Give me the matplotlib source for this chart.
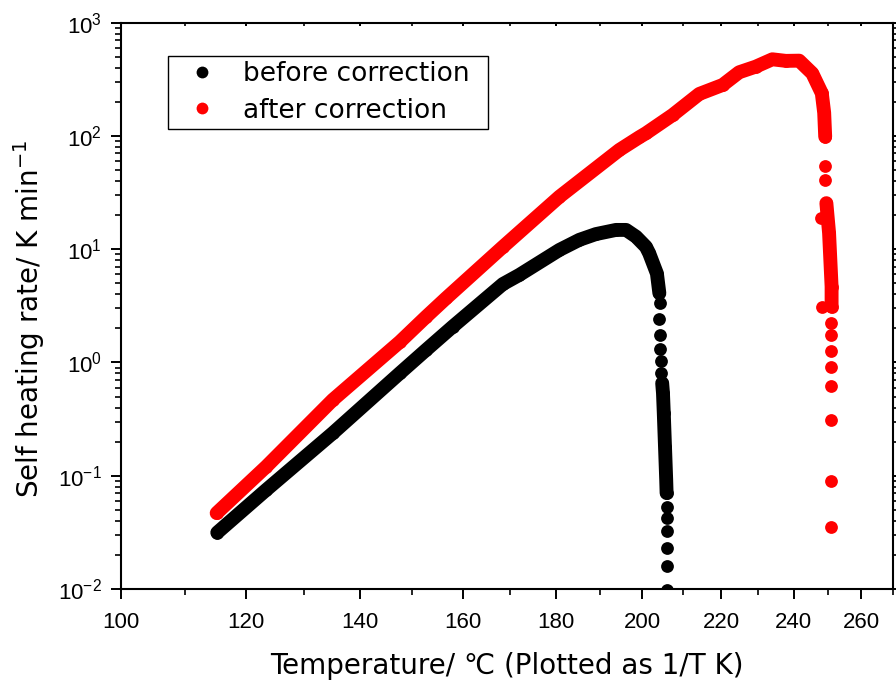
import numpy as np
import matplotlib
matplotlib.use('Agg')
import matplotlib.pyplot as plt
from matplotlib.ticker import MultipleLocator, LogLocator, LogFormatterSciNotation
from matplotlib.lines import Line2D

# Self heating rate vs temperature (ARC run), x axis plotted as 1/T.
# NaN breaks the continuous band so the sparse tail points show as single dots.
nan = np.nan

before_T = [115.2, 123.4, 135.1, 147.6, 152.7, 158.0, 168.4, 171.9, 180.7, 185.2,
            189.0, 193.7, 196.1, 198.5, 200.9, 201.7, 203.6, 204.2,
            nan, 204.3, nan, 204.2, nan, 204.3, nan, 204.4, nan, 204.6, nan, 204.7,
            nan, 204.9, 205.1, 205.3, 205.6, 205.9, 206.0,
            nan, 206.1, nan, 206.2, nan, 206.2, nan, 206.2, nan, 206.2, nan, 206.2]
before_rate = [0.0315, 0.0751, 0.238, 0.805, 1.29, 2.07, 4.93, 5.93, 9.86, 12.1,
               13.6, 14.8, 14.8, 12.9, 10.5, 9.2, 6.1, 4.09,
               nan, 3.36, nan, 2.43, nan, 1.75, nan, 1.32, nan, 1.02, nan, 0.805,
               nan, 0.657, 0.536, 0.356, 0.181, 0.092, 0.0703,
               nan, 0.0535, nan, 0.0423, nan, 0.0322, nan, 0.0230, nan, 0.0158, nan, 0.0098]

after_T = [115.1, 123.4, 135.1, 147.6, 152.7, 156.7, 168.4, 180.7, 194.5, 199.3,
           200.9, 207.5, 214.3, 220.4, 224.8, 229.3, 233.9, 237.7, 241.5, 245.3,
           248.1, 248.8, 249.1,
           nan, 249.1, nan, 249.1, nan, 247.8, nan, 248.3,
           nan, 249.45, 250.25, 251.0, 251.0,
           nan, 250.9, nan, 250.9, nan, 250.9, nan, 250.9, nan, 250.9, nan, 250.9,
           nan, 250.9, nan, 250.9]
after_rate = [0.0468, 0.1205, 0.468, 1.52, 2.53, 3.70, 10.5, 29.1, 75.2, 97.5,
              105.6, 153, 235, 282, 365, 409, 475, 460, 462, 357,
              238, 160, 98.6,
              nan, 54.4, nan, 40.9, nan, 18.8, nan, 3.11,
              nan, 25.5, 13.9, 4.68, 3.11,
              nan, 2.22, nan, 1.75, nan, 1.25, nan, 0.92, nan, 0.625, nan, 0.311,
              nan, 0.0896, nan, 0.0351]

series = [('before correction', before_T, before_rate, 'black'),
          ('after correction', after_T, after_rate, 'red')]

# tick numbers in an Arial-like face, axis titles and legend in a wider sans
plt.rcParams['font.family'] = 'Liberation Sans'
plt.rcParams['mathtext.fontset'] = 'custom'
plt.rcParams['mathtext.rm'] = 'Liberation Sans'
label_font = ['DejaVu Sans', 'Noto Sans CJK JP']


def inv_T(T):
    T = np.asarray(T, dtype=float)
    return -1.0 / (T + 273.15)


def from_inv_T(v):
    v = np.asarray(v, dtype=float)
    return -1.0 / v - 273.15


fig = plt.figure(figsize=(8.96, 6.81), dpi=100)
ax = fig.add_axes([0.1347, 0.1351, 0.8620, 0.8316])
ax.set_xscale('function', functions=(inv_T, from_inv_T))
ax.set_yscale('log')

handles = []
for name, T, rate, color in series:
    ax.plot(T, rate, color=color, lw=10, marker='o', ms=9.2, mew=0,
            solid_capstyle='round', solid_joinstyle='round')
    handles.append(Line2D([], [], ls='none', marker='o', ms=8.5, mew=0,
                          color=color, label=name))

ax.set_xlim(100, 270)
ax.set_ylim(1e-2, 1e3)

ax.xaxis.set_major_locator(MultipleLocator(20))
ax.xaxis.set_minor_locator(MultipleLocator(10))
ax.yaxis.set_major_locator(LogLocator(base=10))
ax.yaxis.set_minor_locator(LogLocator(base=10, subs=np.arange(2, 10)))
ax.yaxis.set_major_formatter(LogFormatterSciNotation())

for s in ax.spines.values():
    s.set_linewidth(1.5)

ax.tick_params(which='major', direction='out', length=7.5, width=1.4, pad=6,
               labelsize=16)
ax.tick_params(which='minor', direction='out', length=4.3, width=1.2)
ax.tick_params(axis='both', which='both', top=True, right=True)
ax.xaxis.set_tick_params(which='both', pad=9)

# top ticks point inward, right ticks outward like the left ones
for tick in ax.xaxis.get_major_ticks() + ax.xaxis.get_minor_ticks():
    tick.tick2line.set_marker(matplotlib.lines.TICKDOWN)
    tick.tick2line.set_markersize(2.5)

ax.set_xlabel('Temperature/ ℃ (Plotted as 1/T K)', fontsize=20,
              family=label_font, labelpad=14)
ax.set_ylabel(r'Self heating rate/ K min$^{\mathregular{-1}}$', fontsize=20,
              family=label_font)
ax.yaxis.set_label_coords(-0.095, 0.477)

leg = ax.legend(handles=handles, loc='upper left', mode='expand',
                bbox_to_anchor=(0.0612, 0.814, 0.4143, 0.127),
                borderaxespad=0, fancybox=False, framealpha=1, edgecolor='black',
                prop={'family': label_font, 'size': 19}, handletextpad=0.46,
                handlelength=2.18, borderpad=0.195, labelspacing=0.39)
leg.get_frame().set_linewidth(1.0)

fig.savefig('out.png', dpi=100)
